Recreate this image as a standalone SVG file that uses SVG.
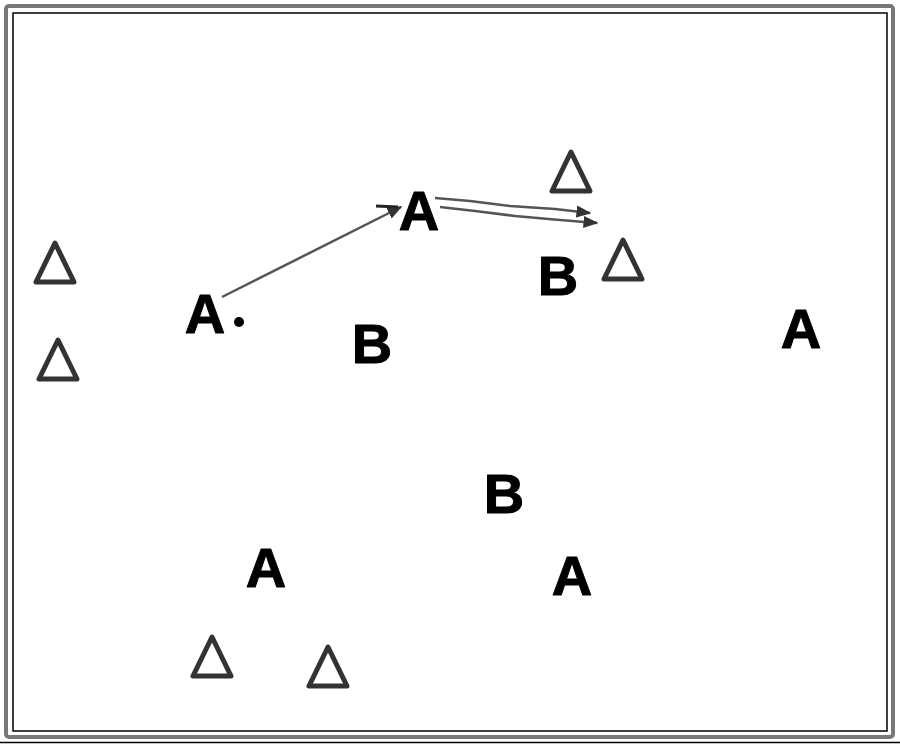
<svg xmlns="http://www.w3.org/2000/svg" width="900" height="746" viewBox="0 0 900 746">
<defs>
<style>
.lbl{font-family:"Liberation Sans",Arial,sans-serif;font-weight:bold;font-size:56px;fill:#000;text-anchor:middle;stroke:#000;stroke-width:1;stroke-linejoin:round}
.cone{fill:none;stroke:#333;stroke-width:5;stroke-linejoin:round}
.mv{stroke:#555;stroke-width:2.5;fill:none}
</style>
<marker id="ah" viewBox="0 0 10 10" refX="9" refY="5" markerWidth="6" markerHeight="6" orient="auto" markerUnits="strokeWidth">
<path d="M0,1 L10,5 L0,9 Z" fill="#333"/>
</marker>
<polygon id="tri" points="0,-20 -19,19 19,19"/>
</defs>
<rect width="900" height="746" fill="#fff"/>
<rect x="6" y="6" width="887" height="731" fill="none" stroke="#777" stroke-width="4" rx="3"/>
<rect x="13" y="13" width="874" height="718" fill="none" stroke="#000" stroke-width="1.5"/>
<line x1="0" y1="742.5" x2="900" y2="742.5" stroke="#000" stroke-width="1.5"/>
<g id="connectors">
<line class="mv" x1="222" y1="297" x2="401" y2="207" marker-end="url(#ah)"/>
<line x1="376" y1="206" x2="398" y2="207" stroke="#222" stroke-width="3"/>
<path class="mv" d="M435,198 L470,201 L510,206 L555,209 L590,213" marker-end="url(#ah)"/>
<path class="mv" d="M440,207 L475,211 L515,216 L560,220 L597,223" marker-end="url(#ah)"/>
</g>
<g id="A1"><text class="lbl" x="205" y="333">A</text><circle cx="239" cy="322" r="5" fill="#000"/></g>
<g id="A2"><text class="lbl" x="419" y="230">A</text></g>
<g id="A3"><text class="lbl" x="801" y="348">A</text></g>
<g id="A4"><text class="lbl" x="266" y="587">A</text></g>
<g id="A5"><text class="lbl" x="572" y="595">A</text></g>
<g id="B1"><text class="lbl" x="372" y="363">B</text></g>
<g id="B2"><text class="lbl" x="558" y="295">B</text></g>
<g id="B3"><text class="lbl" x="504" y="513">B</text></g>
<g id="T1"><use href="#tri" class="cone" x="571" y="172"/></g>
<g id="T2"><use href="#tri" class="cone" x="623" y="260"/></g>
<g id="T3"><use href="#tri" class="cone" x="55" y="263"/></g>
<g id="T4"><use href="#tri" class="cone" x="58" y="360"/></g>
<g id="T5"><use href="#tri" class="cone" x="212" y="657"/></g>
<g id="T6"><use href="#tri" class="cone" x="328" y="667"/></g>
</svg>
